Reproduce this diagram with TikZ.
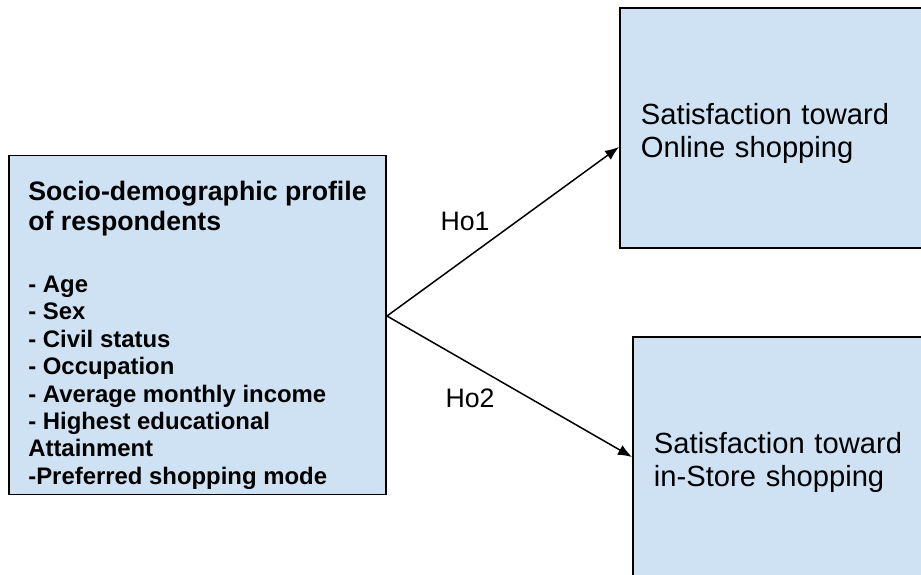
\documentclass[tikz,border=0pt]{standalone}
\usepackage{fontspec}
\setmainfont{Liberation Sans}
\usetikzlibrary{arrows.meta}
\definecolor{lightblue}{RGB}{207,226,243}
\newcommand{\proftitle}{\fontsize{15.2}{17.3}\selectfont}

\begin{document}
\begin{tikzpicture}[
    profbox/.style={draw,fill=lightblue,line width=1.1pt,align=left,minimum width=7.54cm,minimum height=6.78cm,inner ysep=1pt,font=\fontsize{13.6}{15.6}\selectfont\bfseries},
    satbox/.style={draw,fill=lightblue,line width=1.1pt,align=left,text width=5.6cm,inner xsep=0.42cm,minimum height=4.8cm,anchor=west,font=\fontsize{16.6}{18.8}\selectfont},
    link/.style={-{Latex[length=2.8mm,width=2.2mm]},line width=0.85pt},
    hlabel/.style={font=\fontsize{15.2}{18}\selectfont}]
        \useasboundingbox (0,0) rectangle (18.42,11.48);
        \node[profbox,text height=184.3pt] (profile) at (3.95,4.98) {\proftitle Socio-demographic profile\\[1.7pt]
            \proftitle of respondents\\[19.7pt]
            - Age\\ - Sex\\ - Civil status\\ - Occupation\\ - Average monthly income\\
            - Highest educational\\ Attainment\\ -Preferred shopping mode};
        \node[satbox,text depth=16pt] (online) at (12.38,8.92) {Satisfaction toward\\Online shopping};
        \node[satbox,text depth=16pt] (instore) at (12.64,2.34) {Satisfaction toward\\in-Store shopping};
        \coordinate (fork) at ([yshift=0.18cm]profile.east);
        \draw[link] (fork) -- ([yshift=-0.38cm]online.west);
        \draw[link] (fork) -- (instore.west);
        \node[hlabel] (ho1) at (9.30,7.06) {Ho1};
        \node[hlabel] (ho2) at (9.40,3.52) {Ho2};
\end{tikzpicture}
\end{document}
